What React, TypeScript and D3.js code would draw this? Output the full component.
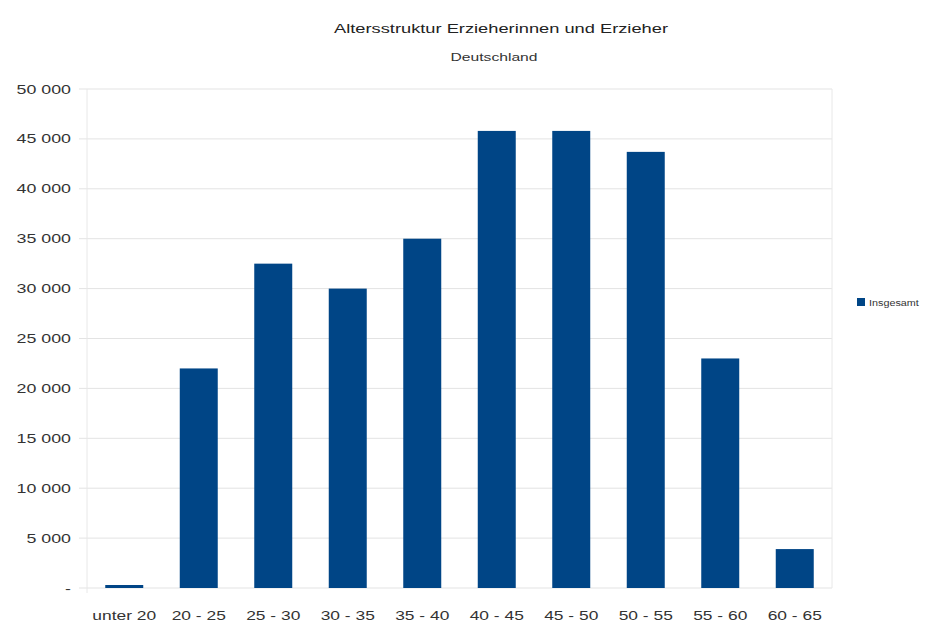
import React from "react";
import * as d3 from "d3";

const categories = ["unter 20", "20 - 25", "25 - 30", "30 - 35", "35 - 40", "40 - 45", "45 - 50", "50 - 55", "55 - 60", "60 - 65"];
const insgesamt = [300, 22000, 32500, 30000, 35000, 45800, 45800, 43700, 23000, 3900];
const yTicks = [0, 5000, 10000, 15000, 20000, 25000, 30000, 35000, 40000, 45000, 50000];

const W = 927;
const H = 623;
const plot = { left: 87, right: 832, top: 89, bottom: 588 };
const barColor = "#004586";
const font = "'Liberation Sans', Arial, sans-serif";
const stretch = 1.45;

function fmt(v: number): string {
  if (v === 0) return "-";
  return d3.format(",")(v).replace(/,/g, " ");
}

type LabelProps = {
  x: number;
  y: number;
  size: number;
  anchor?: "start" | "middle" | "end";
  fill?: string;
  sx?: number;
  children: React.ReactNode;
};

// Text drawn with the wide letterforms used throughout this chart
function Label({ x, y, size, anchor = "start", fill = "#333", sx = stretch, children }: LabelProps) {
  return (
    <text
      transform={`translate(${x},${y}) scale(${sx},1)`}
      textAnchor={anchor}
      fontFamily={font}
      fontSize={size}
      fill={fill}
    >
      {children}
    </text>
  );
}

export default function App() {
  const x = d3.scaleBand<string>().domain(categories).range([plot.left, plot.right]).paddingInner(0.49).paddingOuter(0.245);
  const y = d3.scaleLinear().domain([0, 50000]).range([plot.bottom, plot.top]);

  return (
    <svg width={W} height={H} style={{ position: "absolute", left: 0, top: 0, background: "#fff" }}>
      <rect x={0} y={0} width={W} height={H} fill="#fff" />
      <Label x={501} y={33} size={12.6} anchor="middle" fill="#222">
        Altersstruktur Erzieherinnen und Erzieher
      </Label>
      <Label x={494} y={61} size={10.8} anchor="middle">
        Deutschland
      </Label>

      {yTicks.map((t) => (
        <g key={t}>
          <line x1={plot.left - 8} x2={plot.right} y1={y(t)} y2={y(t)} stroke="#e3e3e3" strokeWidth={1} />
          <Label x={71} y={y(t) + 4.5} size={12.3} anchor="end">
            {fmt(t)}
          </Label>
        </g>
      ))}
      <line x1={plot.left} x2={plot.left} y1={plot.top} y2={plot.bottom + 5} stroke="#e8e8e8" />
      <line x1={plot.right} x2={plot.right} y1={plot.top} y2={plot.bottom} stroke="#e8e8e8" />

      {categories.map((c, i) => (
        <g key={c}>
          <rect
            x={x(c)}
            y={y(insgesamt[i])}
            width={x.bandwidth()}
            height={plot.bottom - y(insgesamt[i])}
            fill={barColor}
          />
          <Label x={(x(c) as number) + x.bandwidth() / 2} y={620} size={12} anchor="middle">
            {c}
          </Label>
        </g>
      ))}

      <rect x={857} y={298} width={8} height={8} fill={barColor} />
      <Label x={869} y={306} size={9} sx={1.2}>
        Insgesamt
      </Label>
    </svg>
  );
}
